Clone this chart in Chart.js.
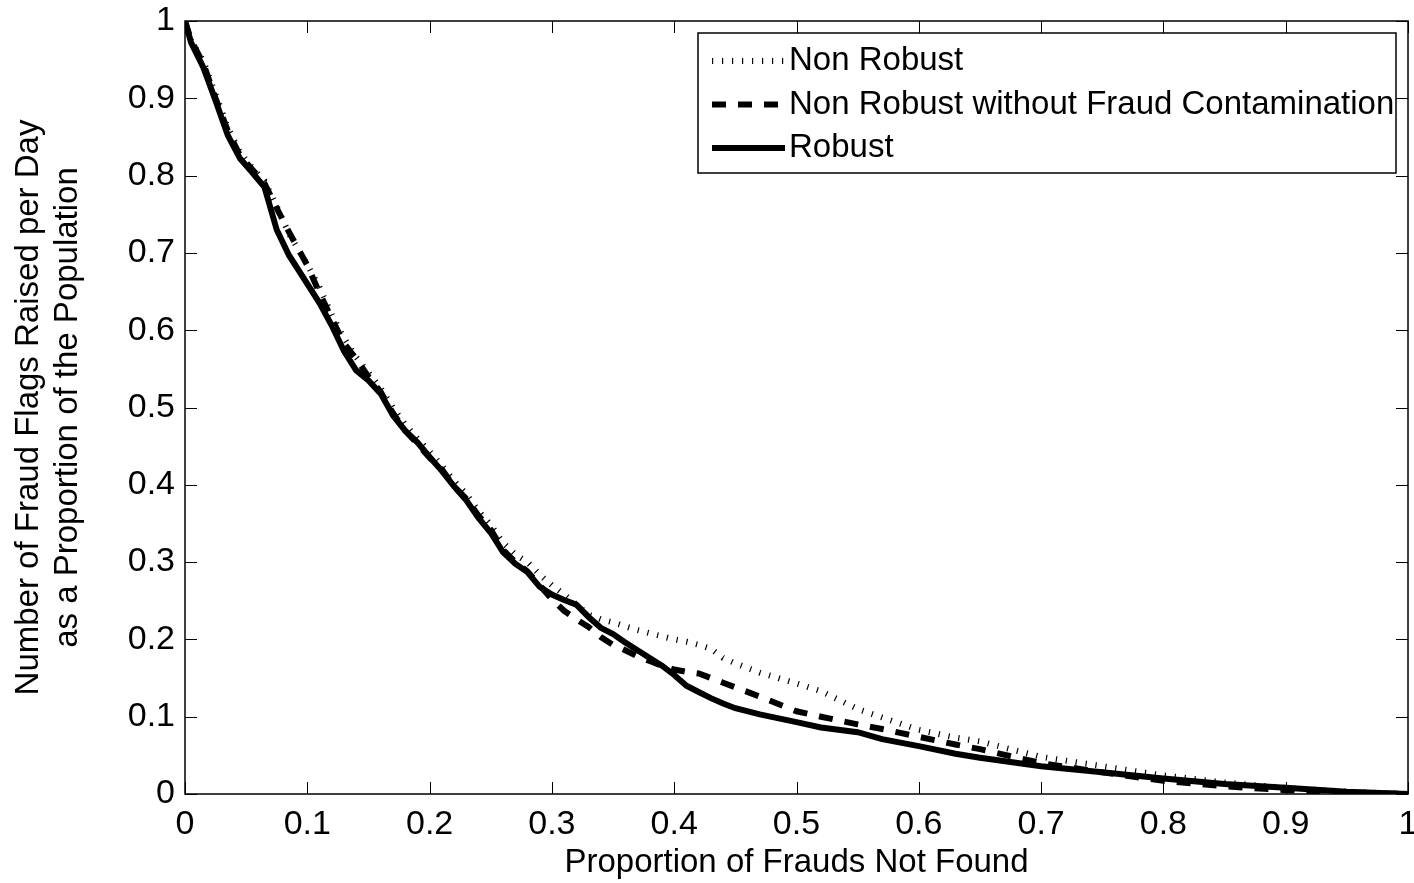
<!DOCTYPE html>
<html>
<head>
<meta charset="utf-8">
<script src="https://cdn.jsdelivr.net/npm/chart.js@4.4.1/dist/chart.umd.min.js"></script>
<style>
  html, body { margin: 0; padding: 0; background: #fff; }
  #wrap { width: 1414px; height: 883px; position: relative; }
</style>
</head>
<body>
<div id="wrap"><canvas id="chart" width="1414" height="883"></canvas></div>
<script>
// Proportion of frauds not found (shared x grid)
const fraudsNotFound = [
  0, 0.005, 0.015, 0.025, 0.035, 0.045, 0.055, 0.065, 0.075, 0.085,
  0.1, 0.11, 0.12, 0.13, 0.14, 0.15, 0.16, 0.17, 0.18, 0.19,
  0.2, 0.21, 0.22, 0.23, 0.24, 0.25, 0.26, 0.27, 0.28, 0.29,
  0.3, 0.31, 0.32, 0.33, 0.34, 0.35, 0.36, 0.37, 0.38, 0.39,
  0.4, 0.41, 0.42, 0.43, 0.44, 0.45, 0.47, 0.5, 0.52, 0.55,
  0.57, 0.6, 0.63, 0.65, 0.7, 0.75, 0.8, 0.85, 0.9, 0.95, 1
];

const nonRobust = [
  1, 0.975, 0.948, 0.905, 0.862, 0.83, 0.81, 0.793, 0.76, 0.725,
  0.685, 0.655, 0.62, 0.59, 0.565, 0.545, 0.525, 0.5, 0.478, 0.46,
  0.443, 0.425, 0.405, 0.388, 0.366, 0.348, 0.325, 0.31, 0.3, 0.284,
  0.27, 0.258, 0.245, 0.232, 0.226, 0.222, 0.217, 0.212, 0.208, 0.204,
  0.2, 0.197, 0.193, 0.188, 0.176, 0.169, 0.157, 0.143, 0.133, 0.11,
  0.099, 0.083, 0.073, 0.068, 0.048, 0.036, 0.024, 0.015, 0.008, 0.003, 0
];

const nonRobustClean = [
  1, 0.975, 0.945, 0.9, 0.858, 0.826, 0.808, 0.79, 0.758, 0.727,
  0.684, 0.648, 0.615, 0.583, 0.563, 0.54, 0.52, 0.493, 0.47, 0.453,
  0.435, 0.42, 0.398, 0.382, 0.36, 0.342, 0.316, 0.3, 0.288, 0.27,
  0.252, 0.237, 0.226, 0.216, 0.203, 0.193, 0.186, 0.178, 0.172, 0.166,
  0.161, 0.158, 0.156, 0.15, 0.144, 0.138, 0.126, 0.107, 0.1, 0.09,
  0.084, 0.074, 0.064, 0.058, 0.04, 0.028, 0.017, 0.01, 0.005, 0.002, 0
];

const robust = [
  1, 0.972, 0.94, 0.897, 0.852, 0.822, 0.804, 0.785, 0.73, 0.697,
  0.66, 0.635, 0.606, 0.573, 0.548, 0.535, 0.518, 0.49, 0.47, 0.455,
  0.436, 0.418, 0.398, 0.38, 0.357, 0.338, 0.313, 0.298, 0.287, 0.268,
  0.258, 0.251, 0.245, 0.229, 0.215, 0.207, 0.196, 0.186, 0.176, 0.166,
  0.154, 0.14, 0.132, 0.124, 0.117, 0.111, 0.103, 0.093, 0.086, 0.08,
  0.071, 0.062, 0.052, 0.047, 0.036, 0.028, 0.02, 0.013, 0.008, 0.003, 0
];

const seriesLabels = ['Non Robust', 'Non Robust without Fraud Contamination', 'Robust'];
const tickLabels = ['0', '0.1', '0.2', '0.3', '0.4', '0.5', '0.6', '0.7', '0.8', '0.9', '1'];

const FONT = "'Liberation Sans', Arial, Helvetica, sans-serif";

function toPoints(ys) {
  return fraudsNotFound.map((x, i) => ({ x: x, y: ys[i] }));
}

// MATLAB-style box with inward ticks on all four sides
const boxPlugin = {
  id: 'matlabBox',
  afterDatasetsDraw(chart) {
    const { ctx, chartArea: a, scales } = chart;
    ctx.save();
    ctx.strokeStyle = '#000';
    ctx.lineWidth = 1.5;
    ctx.strokeRect(a.left, a.top, a.right - a.left, a.bottom - a.top);
    const len = 12;
    ctx.beginPath();
    scales.x.ticks.forEach(t => {
      const px = Math.round(scales.x.getPixelForValue(t.value)) + 0.5;
      ctx.moveTo(px, a.bottom); ctx.lineTo(px, a.bottom - len);
      ctx.moveTo(px, a.top); ctx.lineTo(px, a.top + len);
    });
    scales.y.ticks.forEach(t => {
      const py = Math.round(scales.y.getPixelForValue(t.value)) + 0.5;
      ctx.moveTo(a.left, py); ctx.lineTo(a.left + len, py);
      ctx.moveTo(a.right, py); ctx.lineTo(a.right - len, py);
    });
    ctx.lineWidth = 1;
    ctx.stroke();
    ctx.restore();
  }
};

// legend box in the upper right, drawn from dataset styles
const legendPlugin = {
  id: 'boxLegend',
  afterDraw(chart) {
    const { ctx } = chart;
    const x0 = 698, y0 = 33, w = 698, h = 140;
    ctx.save();
    ctx.fillStyle = '#fff';
    ctx.fillRect(x0, y0, w, h);
    ctx.strokeStyle = '#000';
    ctx.lineWidth = 1.5;
    ctx.strokeRect(x0, y0, w, h);
    ctx.font = '33px ' + FONT;
    ctx.textBaseline = 'middle';
    ctx.fillStyle = '#000';
    chart.data.datasets.forEach((ds, i) => {
      const cy = y0 + 28 + i * 43.5;
      ctx.beginPath();
      ctx.setLineDash(ds.borderDash || []);
      ctx.lineDashOffset = 0;
      ctx.lineWidth = ds.borderWidth;
      ctx.lineCap = 'butt';
      ctx.strokeStyle = ds.borderColor;
      ctx.moveTo(x0 + 14, cy);
      ctx.lineTo(x0 + 87, cy);
      ctx.stroke();
      ctx.setLineDash([]);
      ctx.fillText(ds.label, x0 + 91, cy);
    });
    ctx.restore();
  }
};

new Chart(document.getElementById('chart'), {
  type: 'line',
  data: {
    datasets: [
      {
        label: seriesLabels[0],
        data: toPoints(nonRobust),
        borderColor: '#000',
        borderWidth: 6,
        borderDash: [1.2, 8.8],
        borderCapStyle: 'butt',
        pointRadius: 0,
        tension: 0,
        order: 3
      },
      {
        label: seriesLabels[1],
        data: toPoints(nonRobustClean),
        borderColor: '#000',
        borderWidth: 6,
        borderDash: [14, 12],
        borderCapStyle: 'butt',
        pointRadius: 0,
        tension: 0,
        order: 2
      },
      {
        label: seriesLabels[2],
        data: toPoints(robust),
        borderColor: '#000',
        borderWidth: 6,
        pointRadius: 0,
        tension: 0,
        order: 1
      }
    ]
  },
  options: {
    responsive: false,
    animation: false,
    events: [],
    layout: { padding: { top: 21, right: 6, left: 0, bottom: 0 } },
    plugins: {
      legend: { display: false },
      tooltip: { enabled: false }
    },
    scales: {
      x: {
        type: 'linear',
        min: 0, max: 1,
        grid: { display: false, drawTicks: false },
        border: { display: false },
        ticks: {
          stepSize: 0.1,
          color: '#000',
          font: { family: FONT, size: 34 },
          padding: 10,
          maxRotation: 0,
          callback: v => tickLabels[Math.round(v * 10)]
        },
        title: {
          display: true,
          text: 'Proportion of Frauds Not Found',
          color: '#000',
          font: { family: FONT, size: 33 },
          padding: { top: 0, bottom: 0 }
        },
        afterFit: s => { s.height = 89; s.paddingLeft = 0; s.paddingRight = 0; }
      },
      y: {
        type: 'linear',
        min: 0, max: 1,
        grid: { display: false, drawTicks: false },
        border: { display: false },
        ticks: {
          stepSize: 0.1,
          color: '#000',
          font: { family: FONT, size: 34 },
          padding: 10,
          callback: v => tickLabels[Math.round(v * 10)]
        },
        title: {
          display: true,
          text: ['Number of Fraud Flags Raised per Day', 'as a Proportion of the Population'],
          color: '#000',
          font: { family: FONT, size: 33, lineHeight: 1.2 },
          padding: { top: 9, bottom: 0 }
        },
        afterFit: s => { s.width = 185; s.paddingTop = 0; s.paddingBottom = 0; }
      }
    }
  },
  plugins: [boxPlugin, legendPlugin]
});
</script>
</body>
</html>
